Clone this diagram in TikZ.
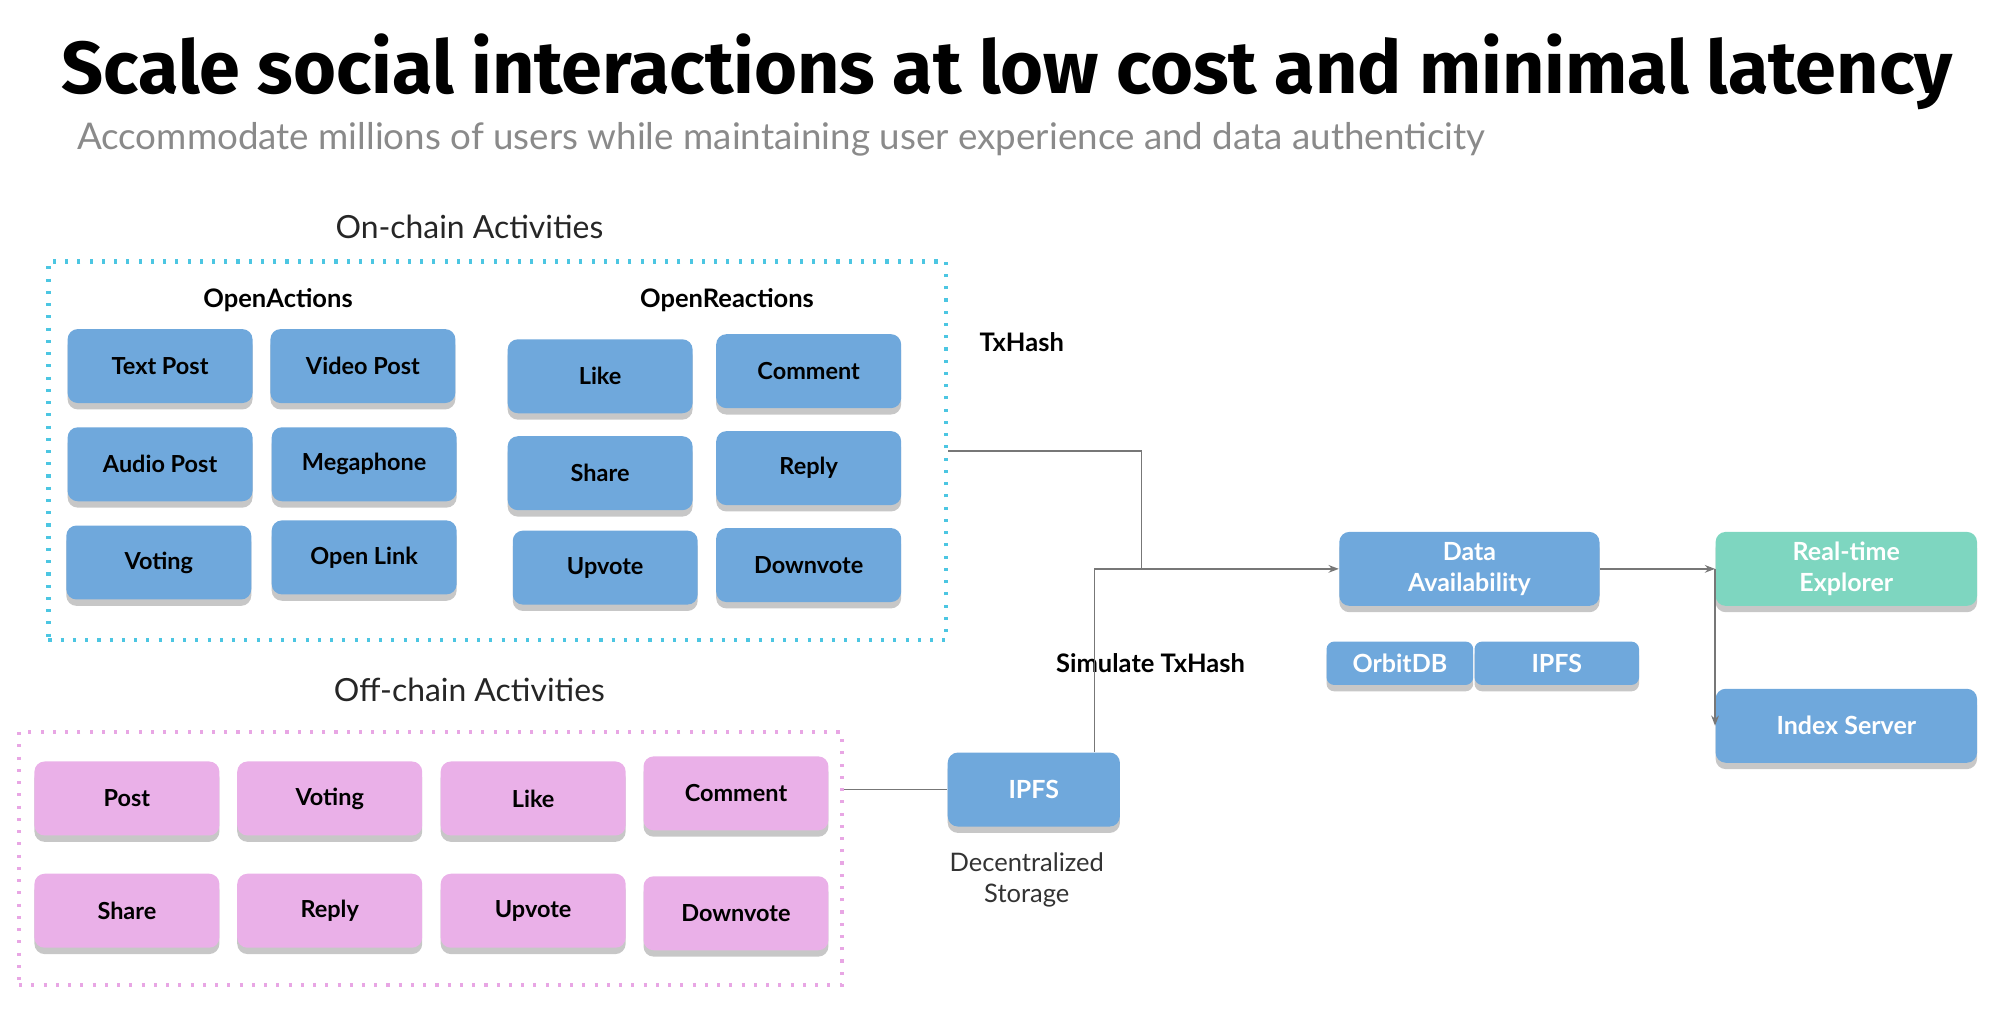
\documentclass[tikz,border=0pt]{standalone}
\usepackage{fontspec}
\setmainfont{Lato}
\newfontfamily\titlefont{Fira Sans}
\usetikzlibrary{shadows,arrows.meta}
\definecolor{boxblue}{HTML}{6FA8DC}
\definecolor{boxgreen}{HTML}{7ED6C0}
\definecolor{boxpink}{HTML}{EAB0E8}
\definecolor{dotcyan}{HTML}{4CC6E2}
\definecolor{dotpink}{HTML}{E8A6E4}
\definecolor{linegray}{HTML}{777777}
\definecolor{subgray}{HTML}{8A8A8A}
\tikzset{
  card/.style={rounded corners=4pt, minimum width=72.5pt, minimum height=29pt,
    inner sep=0pt, font=\fontsize{9.2}{11}\selectfont\bfseries,
    drop shadow={shadow xshift=0pt, shadow yshift=-2.5pt, opacity=0.22, fill=black}},
  bluecard/.style={card, fill=boxblue, text=black},
  pinkcard/.style={card, fill=boxpink, text=black},
  wcard/.style={card, fill=boxblue, text=white, font=\fontsize{9.8}{12}\selectfont\bfseries, align=center},
  gcard/.style={wcard, fill=boxgreen},
  smallcard/.style={wcard, minimum height=17pt, rounded corners=3pt},
  dotbox/.style={draw, line width=1.6pt, dash pattern=on 1.2pt off 3.6pt, inner sep=0pt},
  heading/.style={font=\fontsize{12.5}{14}\selectfont, text=black!85},
  bhead/.style={font=\fontsize{10}{12}\selectfont\bfseries},
  conn/.style={draw=linegray, line width=0.6pt},
  arr/.style={conn, -{Stealth[length=4pt,width=3pt]}},
}
\begin{document}
\begin{tikzpicture}[x=0.5pt,y=-0.5pt]
\useasboundingbox (0,0) rectangle (1568,796.5);
% title
\node[anchor=west, inner sep=0pt] (title) at (48,56) {\resizebox{741pt}{!}{\titlefont\bfseries Scale social interactions at low cost and minimal latency}};
\node[anchor=west, inner sep=0pt, text=subgray] (subtitle) at (60,109) {\resizebox{552pt}{!}{Accommodate millions of users while maintaining user experience and data authenticity}};
% on-chain
\node[heading] (onlab) at (368,178) {On-chain Activities};
\node[dotbox, draw=dotcyan, minimum width=352pt, minimum height=148.5pt] (onchain) at (390,353.5) {};
\node[bhead] (oa) at (218,235) {OpenActions};
\node[bhead] (orx) at (570,235) {OpenReactions};
\node[bluecard] (textpost) at (125.5,287) {Text Post};
\node[bluecard] (videopost) at (284.5,287) {Video Post};
\node[bluecard] (audiopost) at (125.5,364) {Audio Post};
\node[bluecard] (megaphone) at (285.5,364) {Megaphone};
\node[bluecard] (voting) at (124.5,441) {Voting};
\node[bluecard] (openlink) at (285.5,437) {Open Link};
\node[bluecard] (like) at (470.5,295) {Like};
\node[bluecard] (comment) at (634,291) {Comment};
\node[bluecard] (share) at (470.5,371) {Share};
\node[bluecard] (reply) at (634,367) {Reply};
\node[bluecard] (upvote) at (474.5,445) {Upvote};
\node[bluecard] (downvote) at (634,443) {Downvote};
\node[bhead] (txhash) at (801,268) {TxHash};
% off-chain
\node[heading] (offlab) at (368,541) {Off-chain Activities};
\node[dotbox, draw=dotpink, minimum width=322.5pt, minimum height=99pt] (offchain) at (337.5,673) {};
\node[pinkcard] (post) at (99.5,626) {Post};
\node[pinkcard] (pvoting) at (258.5,626) {Voting};
\node[pinkcard] (plike) at (418,626) {Like};
\node[pinkcard] (pcomment) at (577,622) {Comment};
\node[pinkcard] (pshare) at (99.5,714) {Share};
\node[pinkcard] (preply) at (258.5,714) {Reply};
\node[pinkcard] (pupvote) at (418,714) {Upvote};
\node[pinkcard] (pdownvote) at (577,716) {Downvote};
% storage
\node[wcard, minimum width=67.5pt] (ipfs) at (810.5,619) {IPFS};
\node[font=\fontsize{10}{12}\selectfont, text=black!80, align=center] (decst) at (805,690) {Decentralized\\Storage};
\node[bhead] (simtx) at (902,520) {Simulate TxHash};
% right part
\node[wcard, minimum width=102pt] (da) at (1152,446) {Data\\Availability};
\node[gcard, minimum width=102.5pt] (rte) at (1447.5,446) {Real-time\\Explorer};
\node[wcard, minimum width=102.5pt] (idx) at (1447.5,569) {Index Server};
\node[smallcard, minimum width=57.5pt] (orbit) at (1097.5,520) {OrbitDB};
\node[smallcard, minimum width=64.5pt] (ipfs2) at (1220.5,520) {IPFS};
% connectors
\coordinate (j1) at (895,353.5);
\coordinate (j2) at (858,446);
\draw[conn] (onchain.east) -- (j1) -- (j1 |- da.west);
\draw[arr] (ipfs.north -| j2) -- (j2) -- (da.west);
\draw[conn] (ipfs.west -| offchain.east) -- (ipfs.west);
\draw[arr] (da.east) -- (rte.west);
\draw[arr] (rte.west) -- (idx.west);
\end{tikzpicture}
\end{document}
